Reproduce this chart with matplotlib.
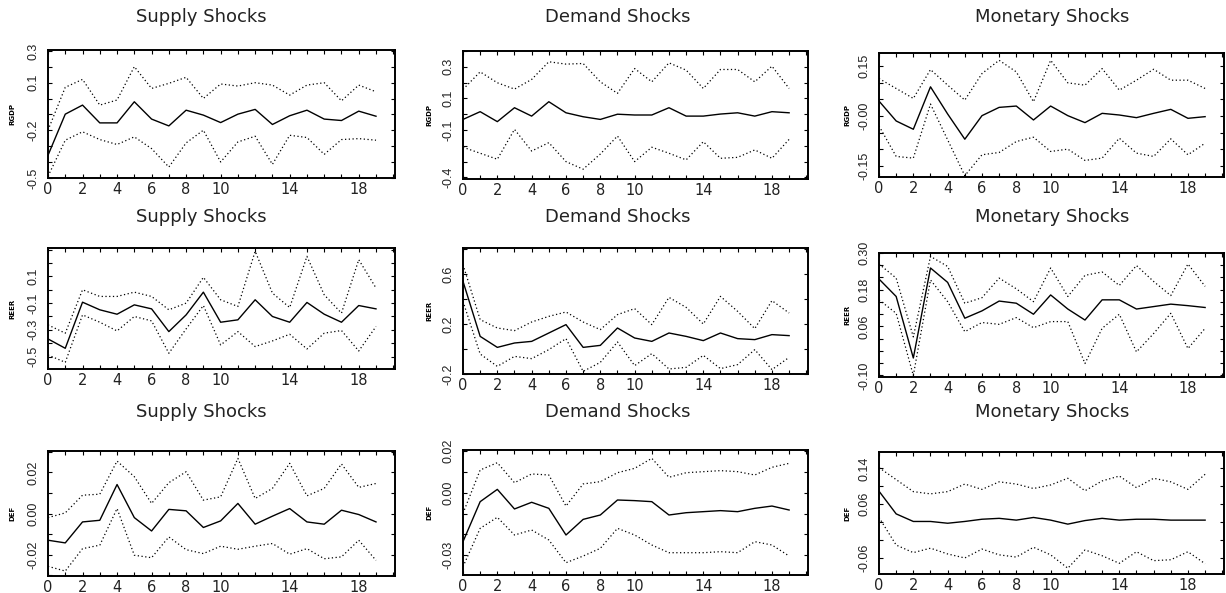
import numpy as np
import matplotlib.pyplot as plt
from matplotlib.ticker import FixedLocator

horizon = list(range(20))

# RGDP responses
rgdp_supply = [-0.357, -0.098, -0.041, -0.153, -0.153, -0.020, -0.129, -0.172, -0.073, -0.104,
               -0.151, -0.098, -0.068, -0.163, -0.108, -0.073, -0.129, -0.138, -0.079, -0.111]
rgdp_supply_hi = [-0.199, 0.071, 0.121, -0.041, -0.009, 0.201, 0.064, 0.096, 0.134, 0.001,
                  0.092, 0.079, 0.100, 0.085, 0.022, 0.085, 0.100, -0.014, 0.085, 0.043]
rgdp_supply_lo = [-0.489, -0.262, -0.209, -0.258, -0.289, -0.241, -0.315, -0.431, -0.279, -0.199,
                  -0.399, -0.273, -0.237, -0.414, -0.231, -0.245, -0.351, -0.258, -0.252, -0.262]

rgdp_demand = [-0.033, 0.016, -0.047, 0.041, -0.012, 0.079, 0.009, -0.016, -0.033, 0.000,
               -0.005, -0.005, 0.041, -0.012, -0.012, 0.001, 0.009, -0.012, 0.016, 0.009]
rgdp_demand_hi = [0.157, 0.268, 0.199, 0.159, 0.220, 0.332, 0.317, 0.321, 0.205, 0.132,
                  0.289, 0.205, 0.325, 0.279, 0.163, 0.283, 0.283, 0.205, 0.304, 0.163]
rgdp_demand_lo = [-0.209, -0.247, -0.285, -0.096, -0.233, -0.180, -0.300, -0.348, -0.252, -0.138,
                  -0.300, -0.209, -0.247, -0.289, -0.174, -0.279, -0.273, -0.226, -0.279, -0.159]

rgdp_monetary = [0.045, -0.015, -0.040, 0.088, 0.006, -0.070, 0.001, 0.026, 0.030, -0.012,
                 0.030, 0.001, -0.020, 0.008, 0.003, -0.005, 0.008, 0.020, -0.007, -0.002]
rgdp_monetary_hi = [0.113, 0.083, 0.053, 0.140, 0.093, 0.048, 0.128, 0.168, 0.133, 0.043,
                    0.168, 0.100, 0.093, 0.143, 0.078, 0.108, 0.141, 0.108, 0.108, 0.083]
rgdp_monetary_lo = [-0.030, -0.122, -0.127, 0.036, -0.072, -0.180, -0.117, -0.110, -0.077, -0.064,
                    -0.107, -0.100, -0.134, -0.127, -0.067, -0.112, -0.122, -0.069, -0.117, -0.082]

# REER responses
reer_supply = [-0.368, -0.438, -0.093, -0.150, -0.183, -0.113, -0.143, -0.313, -0.188, -0.018,
               -0.243, -0.225, -0.075, -0.200, -0.243, -0.095, -0.183, -0.243, -0.118, -0.143]
reer_supply_hi = [-0.263, -0.325, 0.000, -0.050, -0.050, -0.018, -0.050, -0.150, -0.100, 0.093,
                  -0.075, -0.125, 0.288, -0.025, -0.133, 0.250, -0.038, -0.175, 0.225, 0.013]
reer_supply_lo = [-0.488, -0.543, -0.188, -0.243, -0.308, -0.200, -0.233, -0.475, -0.293, -0.118,
                  -0.413, -0.313, -0.425, -0.383, -0.333, -0.443, -0.325, -0.305, -0.458, -0.275]

reer_demand = [0.541, 0.101, 0.013, 0.048, 0.061, 0.128, 0.195, 0.013, 0.029, 0.168,
               0.088, 0.061, 0.128, 0.101, 0.067, 0.128, 0.083, 0.075, 0.115, 0.107]
reer_demand_hi = [0.675, 0.235, 0.168, 0.147, 0.216, 0.261, 0.296, 0.216, 0.155, 0.275,
                  0.323, 0.195, 0.413, 0.333, 0.200, 0.421, 0.301, 0.163, 0.387, 0.288]
reer_demand_lo = [0.381, -0.040, -0.139, -0.059, -0.077, -0.005, 0.083, -0.179, -0.107, 0.056,
                  -0.133, -0.037, -0.160, -0.147, -0.051, -0.157, -0.125, -0.005, -0.165, -0.067]

reer_monetary = [0.215, 0.158, -0.043, 0.251, 0.204, 0.087, 0.111, 0.143, 0.136, 0.100,
                 0.163, 0.117, 0.081, 0.147, 0.147, 0.117, 0.125, 0.133, 0.128, 0.122]
reer_monetary_hi = [0.264, 0.218, 0.026, 0.289, 0.256, 0.136, 0.154, 0.218, 0.183, 0.141,
                    0.251, 0.158, 0.227, 0.238, 0.194, 0.259, 0.207, 0.161, 0.264, 0.191]
reer_monetary_lo = [0.147, 0.103, -0.100, 0.212, 0.141, 0.043, 0.073, 0.067, 0.089, 0.056,
                    0.076, 0.076, -0.061, 0.054, 0.100, -0.023, 0.037, 0.103, -0.012, 0.054]

# DEF responses
def_supply = [-0.0130, -0.0143, -0.0041, -0.0033, 0.0141, -0.0020, -0.0085, 0.0020, 0.0013, -0.0068,
              -0.0036, 0.0049, -0.0052, -0.0013, 0.0024, -0.0041, -0.0052, 0.0016, -0.0005, -0.0041]
def_supply_hi = [-0.0020, 0.0003, 0.0089, 0.0094, 0.0255, 0.0179, 0.0049, 0.0150, 0.0203, 0.0065,
                 0.0081, 0.0268, 0.0073, 0.0122, 0.0244, 0.0086, 0.0122, 0.0241, 0.0127, 0.0146]
def_supply_lo = [-0.0257, -0.0280, -0.0171, -0.0154, 0.0024, -0.0203, -0.0215, -0.0114, -0.0176, -0.0195,
                 -0.0159, -0.0174, -0.0159, -0.0146, -0.0198, -0.0171, -0.0220, -0.0211, -0.0130, -0.0228]

def_demand = [-0.0235, -0.0043, 0.0016, -0.0078, -0.0046, -0.0075, -0.0203, -0.0128, -0.0107, -0.0035,
              -0.0038, -0.0043, -0.0107, -0.0096, -0.0091, -0.0086, -0.0091, -0.0075, -0.0064, -0.0083]
def_demand_hi = [-0.0099, 0.0109, 0.0144, 0.0048, 0.0090, 0.0085, -0.0064, 0.0042, 0.0053, 0.0096,
                 0.0117, 0.0165, 0.0074, 0.0096, 0.0101, 0.0106, 0.0101, 0.0085, 0.0122, 0.0141]
def_demand_lo = [-0.0355, -0.0171, -0.0118, -0.0203, -0.0179, -0.0227, -0.0336, -0.0304, -0.0267, -0.0171,
                 -0.0203, -0.0251, -0.0288, -0.0288, -0.0288, -0.0283, -0.0288, -0.0235, -0.0251, -0.0304]

def_monetary = [0.089, 0.038, 0.021, 0.021, 0.017, 0.021, 0.026, 0.028, 0.024, 0.030,
                0.024, 0.015, 0.023, 0.028, 0.024, 0.026, 0.026, 0.024, 0.024, 0.024]
def_monetary_hi = [0.142, 0.115, 0.088, 0.083, 0.088, 0.105, 0.093, 0.110, 0.105, 0.095,
                   0.103, 0.118, 0.090, 0.112, 0.123, 0.097, 0.118, 0.110, 0.093, 0.127]
def_monetary_lo = [0.030, -0.032, -0.049, -0.039, -0.052, -0.061, -0.041, -0.054, -0.059, -0.037,
                   -0.054, -0.084, -0.043, -0.056, -0.073, -0.047, -0.067, -0.065, -0.047, -0.074]

titles = ["Supply Shocks", "Demand Shocks", "Monetary Shocks"]
variables = ["RGDP", "REER", "DEF"]
xtick_labels = [0, 2, 4, 6, 8, 10, 14, 18]

W, H = 1226, 593
fig = plt.figure(figsize=(W / 100, H / 100), dpi=100)

def box(l, t, r, b):
    return [l / W, 1 - b / H, (r - l) / W, (b - t) / H]

panels = [
    # (row, col, mid, hi, lo, box, ylim, yticks, ylabels, minor ticks)
    (0, 0, rgdp_supply, rgdp_supply_hi, rgdp_supply_lo, box(48, 50, 395, 178), (-0.5, 0.306),
     [-0.5, -0.2, 0.1, 0.3], ["-0.5", "-0.2", "0.1", "0.3"], np.arange(-0.5, 0.31, 0.1)),
    (0, 1, rgdp_demand, rgdp_demand_hi, rgdp_demand_lo, box(463, 51, 808, 179), (-0.41, 0.40),
     [-0.4, -0.1, 0.1, 0.3], ["-0.4", "-0.1", "0.1", "0.3"], np.arange(-0.4, 0.41, 0.1)),
    (0, 2, rgdp_monetary, rgdp_monetary_hi, rgdp_monetary_lo, box(879, 53, 1224, 177), (-0.184, 0.19),
     [-0.15, 0.0, 0.15], ["-0.15", "-0.00", "0.15"], np.arange(-0.15, 0.19, 0.05)),
    (1, 0, reer_supply, reer_supply_hi, reer_supply_lo, box(48, 248, 395, 369), (-0.593, 0.3125),
     [-0.5, -0.3, -0.1, 0.1], ["-0.5", "-0.3", "-0.1", "0.1"], np.arange(-0.5, 0.31, 0.1)),
    (1, 1, reer_demand, reer_demand_hi, reer_demand_lo, box(463, 248, 808, 374), (-0.2, 0.808),
     [-0.2, 0.2, 0.6], ["-0.2", "0.2", "0.6"], np.arange(-0.2, 0.81, 0.2)),
    (1, 2, reer_monetary, reer_monetary_hi, reer_monetary_lo, box(879, 253, 1224, 377), (-0.105, 0.30),
     [-0.10, 0.06, 0.18, 0.30], ["-0.10", "0.06", "0.18", "0.30"], np.arange(-0.10, 0.31, 0.04)),
    (2, 0, def_supply, def_supply_hi, def_supply_lo, box(48, 451, 395, 576), (-0.0304, 0.0304),
     [-0.02, 0.0, 0.02], ["-0.02", "0.00", "0.02"], np.arange(-0.03, 0.031, 0.01)),
    (2, 1, def_demand, def_demand_hi, def_demand_lo, box(463, 450, 808, 575), (-0.0395, 0.0205),
     [-0.03, 0.0, 0.02], ["-0.03", "0.00", "0.02"], np.arange(-0.03, 0.021, 0.01)),
    (2, 2, def_monetary, def_monetary_hi, def_monetary_lo, box(879, 452, 1224, 574), (-0.097, 0.177),
     [-0.06, 0.06, 0.14], ["-0.06", "0.06", "0.14"], np.arange(-0.06, 0.15, 0.04)),
]

title_x = [201, 618, 1052]
title_y = [17, 217, 412]
ylabel_x = [-0.095, -0.09, -0.084]

for row, col, mid, hi, lo, rect, ylim, yt, ytl, yminor in panels:
    ax = fig.add_axes(rect)
    ax.plot(horizon, mid, color="black", lw=1.0)
    ax.plot(horizon, hi, color="black", lw=0.9, linestyle=(0, (1, 2)))
    ax.plot(horizon, lo, color="black", lw=0.9, linestyle=(0, (1, 2)))
    ax.set_xlim(0, 20.1)
    ax.set_ylim(*ylim)
    ax.set_xticks(xtick_labels)
    ax.set_xticklabels([str(v) for v in xtick_labels], fontsize=10.5, color="#222222")
    ax.xaxis.set_minor_locator(FixedLocator(range(0, 21)))
    ax.set_yticks(yt)
    ax.set_yticklabels(ytl, rotation=90, va="center", fontsize=9, color="#222222",
                       family="Liberation Sans")
    ax.yaxis.set_minor_locator(FixedLocator(yminor))
    ax.tick_params(which="both", direction="in", top=True, right=True, width=0.8)
    ax.tick_params(axis="x", which="major", length=3, pad=3)
    ax.tick_params(axis="y", which="major", length=3, pad=6)
    ax.tick_params(which="minor", length=3)
    for sp in ax.spines.values():
        sp.set_linewidth(1.4)
    ax.set_ylabel(variables[row], fontsize=5, fontweight="bold")
    ax.yaxis.set_label_coords(ylabel_x[col], 0.5)
    fig.text(title_x[col] / W, 1 - title_y[row] / H, titles[col], ha="center", va="center",
             fontsize=13, color="#222222")

fig.savefig("out.png", dpi=100)
